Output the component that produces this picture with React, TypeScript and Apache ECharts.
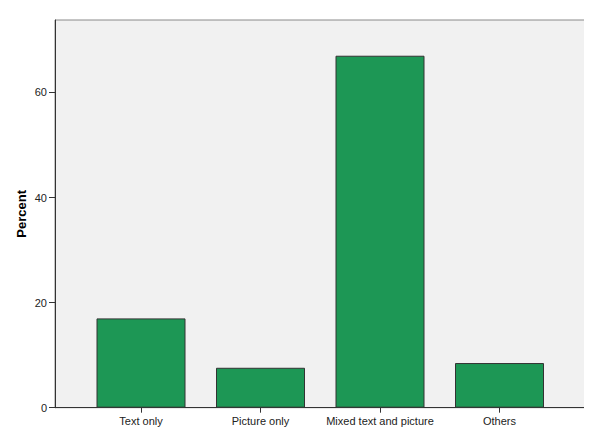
import React, { useEffect, useRef } from "react";
import * as echarts from "echarts";

const categories = ["Text only", "Picture only", "Mixed text and picture", "Others"];
const percentValues = [17.0, 7.6, 67.0, 8.5];
const yTicks = [0, 20, 40, 60];
const yMax = 73.8;

export default function App() {
  const ref = useRef<HTMLDivElement>(null);
  useEffect(() => {
    if (!ref.current) return;
    const chart = echarts.init(ref.current, null, { renderer: "svg" });
    const font = "'Liberation Sans', Arial, sans-serif";
    chart.setOption({
      animation: false,
      backgroundColor: "#ffffff",
      grid: [
        {
          left: 55,
          top: 20,
          width: 530,
          height: 387.7,
          show: true,
          backgroundColor: "#f1f1f1",
          borderColor: "#8a8a8a",
          borderWidth: 1,
        },
        {
          left: 81.25,
          top: 20,
          width: 478,
          height: 387.7,
        },
      ],
      xAxis: [
        {
          gridIndex: 0,
          type: "value",
          min: 0,
          max: 1,
          axisLine: { show: true, onZero: false, lineStyle: { color: "#333333", width: 1 } },
          axisTick: { show: false },
          axisLabel: { show: false },
          splitLine: { show: false },
        },
        {
          gridIndex: 1,
          type: "category",
          data: categories,
          boundaryGap: true,
          axisLine: { show: false },
          axisTick: { show: true, alignWithLabel: true, length: 5, lineStyle: { color: "#333333" } },
          axisLabel: { color: "#222222", fontSize: 11, fontFamily: font, margin: 8, interval: 0 },
          splitLine: { show: false },
        },
      ],
      yAxis: [
        {
          gridIndex: 0,
          type: "value",
          min: 0,
          max: yMax,
          interval: 20,
          name: "Percent",
          nameLocation: "middle",
          nameGap: 27,
          nameMoveOverlap: false,
          nameTextStyle: { color: "#000000", fontSize: 13, fontWeight: "bold", fontFamily: font },
          axisLine: { show: true, lineStyle: { color: "#333333", width: 1 } },
          axisTick: { show: true, length: 6, lineStyle: { color: "#333333" } },
          axisLabel: {
            color: "#222222",
            fontSize: 11,
            fontFamily: font,
            margin: 8,
            showMaxLabel: false,
            formatter: (v: number) => (yTicks.includes(v) ? String(v) : ""),
          },
          splitLine: { show: false },
        },
        {
          gridIndex: 1,
          type: "value",
          min: 0,
          max: yMax,
          show: false,
          splitLine: { show: false },
        },
      ],
      series: [
        {
          type: "bar",
          xAxisIndex: 1,
          yAxisIndex: 1,
          data: percentValues,
          barWidth: 89,
          itemStyle: { color: "#1d9755", borderColor: "#333333", borderWidth: 1 },
          silent: true,
        },
      ],
    });
    return () => chart.dispose();
  }, []);
  return <div ref={ref} style={{ width: 592, height: 436, margin: -8 }} />;
}
